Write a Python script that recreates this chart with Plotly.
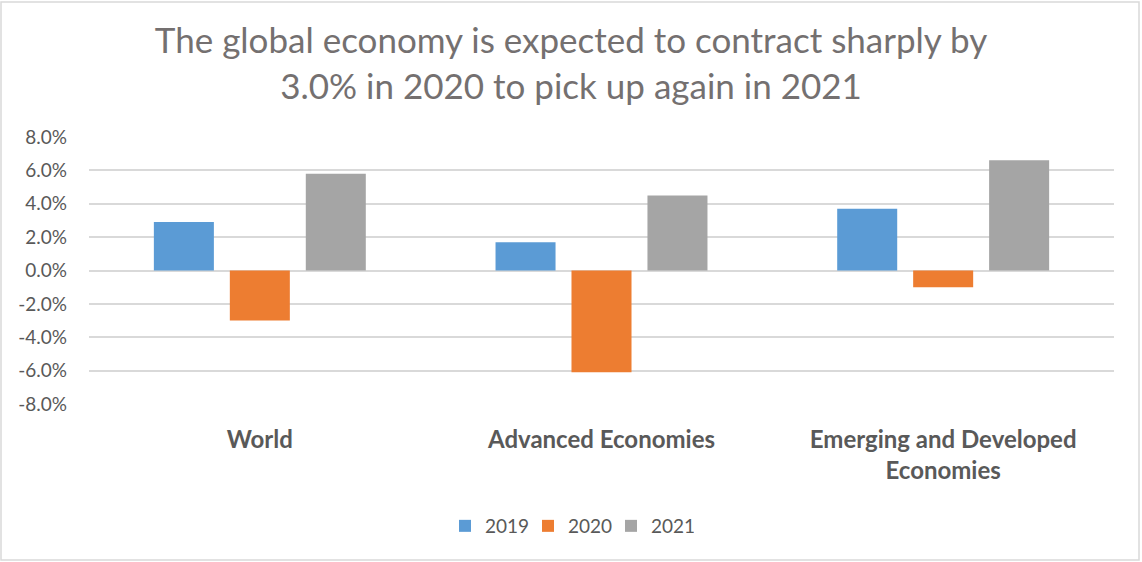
import plotly.graph_objects as go

categories = ["World", "Advanced Economies", "Emerging and Developed<br>Economies"]
years = ["2019", "2020", "2021"]
growth_2019 = [2.9, 1.7, 3.7]
growth_2020 = [-3.0, -6.1, -1.0]
growth_2021 = [5.8, 4.5, 6.6]
tick_vals = [-8, -6, -4, -2, 0, 2, 4, 6, 8]
tick_text = ["-8.0%", "-6.0%", "-4.0%", "-2.0%", "0.0%", "2.0%", "4.0%", "6.0%", "8.0%"]

colors = ["#5b9bd5", "#ed7d31", "#a5a5a5"]
series = [growth_2019, growth_2020, growth_2021]

W, H = 1142, 562
ML, MR, MT, MB = 89, 28, 137, 158

fig = go.Figure()
for name, vals, col in zip(years, series, colors):
    fig.add_trace(go.Bar(x=categories, y=vals, name=name,
                         marker=dict(color=col, line=dict(width=0))))

pw = W - ML - MR
ph = H - MT - MB
fig.update_layout(
    width=W, height=H,
    margin=dict(l=ML, r=MR, t=MT, b=MB),
    paper_bgcolor="white", plot_bgcolor="white",
    barmode="group", bargap=0.333, bargroupgap=0.21,
    title=dict(text="The global economy is expected to contract sharply by<br>3.0% in 2020 to pick up again in 2021",
               x=0.5, xanchor="center", yref="container", y=1 - 53 / H, yanchor="middle",
               font=dict(family="Lato", size=35, color="#747070")),
    font=dict(family="Lato", color="#595959"),
    legend=dict(orientation="h", x=(445 - ML) / pw, xanchor="left",
                y=-(526 - (H - MB)) / ph, yanchor="middle",
                font=dict(size=19, color="#595959"),
                itemwidth=30, entrywidth=38, entrywidthmode="pixels",
                traceorder="normal"),
    xaxis=dict(showgrid=False, zeroline=False, showline=False, ticks="",
               tickfont=dict(family="Lato", size=24, color="#595959", weight="bold"),
               ticklabelstandoff=19),
    yaxis=dict(range=[-8, 8], tickvals=tick_vals, ticktext=tick_text,
               showgrid=True, gridcolor="#d9d9d9", gridwidth=1.5,
               zeroline=False, showline=False, ticks="",
               tickfont=dict(family="Lato", size=19, color="#595959"),
               ticklabelstandoff=21),
    shapes=[dict(type="rect", xref="paper", yref="paper",
                 x0=(1 - ML) / pw, x1=(W - 3 - ML) / pw,
                 y0=-(MB - 2) / ph, y1=1 + (MT - 2) / ph,
                 line=dict(color="#d9d9d9", width=1.5), fillcolor="rgba(0,0,0,0)")],
)

fig.write_html("out.html")
